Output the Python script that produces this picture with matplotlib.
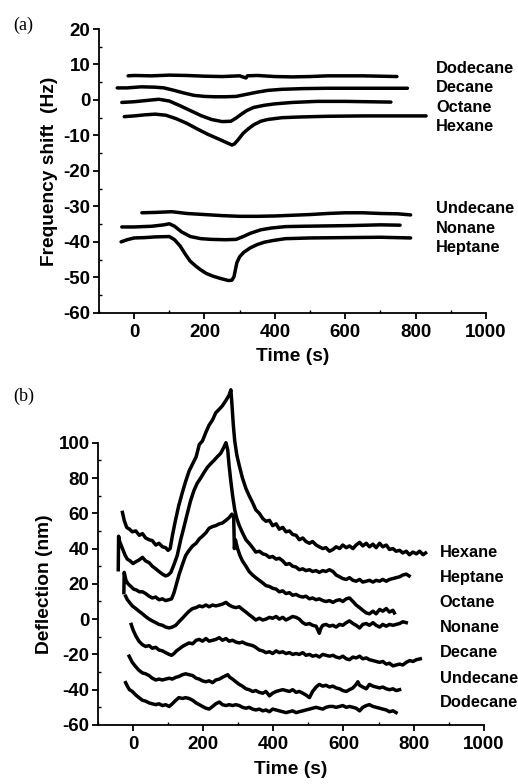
import matplotlib
matplotlib.use('Agg')
import matplotlib.pyplot as plt
from matplotlib.ticker import MultipleLocator

# ---------------- Panel (a): frequency shift (Hz) ----------------
dodecane_a_t = [-17, 0, 50, 100, 150, 200, 250, 300, 318, 322, 350, 400, 450, 500, 550, 600, 650, 700, 747]
dodecane_a_v = [6.8, 6.9, 6.8, 7.0, 6.9, 6.7, 6.6, 6.8, 6.2, 6.8, 6.9, 6.6, 6.5, 6.6, 6.8, 6.8, 6.8, 6.7, 6.6]

decane_a_t = [-48, -20, 20, 60, 85, 110, 140, 170, 200, 230, 260, 290, 320, 350, 380, 420, 480, 550, 650, 777]
decane_a_v = [3.4, 3.4, 3.7, 3.6, 3.4, 2.8, 2.0, 1.3, 1.0, 0.9, 0.9, 1.0, 1.6, 2.2, 2.7, 3.0, 3.2, 3.3, 3.3, 3.3]

octane_a_t = [-35, 0, 40, 70, 100, 130, 160, 190, 220, 250, 275, 290, 305, 320, 340, 370, 400, 450, 520, 600, 730]
octane_a_v = [-0.7, -0.5, -0.1, 0.2, -0.3, -1.6, -3.0, -4.4, -5.5, -6.1, -6.0, -5.1, -4.0, -3.0, -2.1, -1.5, -1.1, -0.7, -0.4, -0.4, -0.6]

hexane_a_t = [-28, 0, 30, 60, 90, 120, 150, 180, 210, 240, 260, 278, 285, 295, 310, 325, 340, 360, 380, 420, 470, 550, 650, 750, 830]
hexane_a_v = [-4.7, -4.5, -4.2, -4.0, -4.3, -5.3, -6.6, -8.2, -9.7, -11.0, -11.9, -12.7, -12.4, -11.3, -9.4, -8.1, -7.0, -6.0, -5.5, -5.0, -4.8, -4.6, -4.5, -4.5, -4.5]

undecane_a_t = [22, 60, 107, 150, 200, 250, 300, 350, 400, 450, 500, 550, 600, 650, 700, 750, 786]
undecane_a_v = [-31.8, -31.7, -31.5, -32.0, -32.3, -32.6, -32.8, -32.8, -32.7, -32.5, -32.3, -32.0, -31.8, -31.8, -32.0, -32.1, -32.4]

nonane_a_t = [-35, 0, 50, 85, 100, 115, 135, 160, 190, 220, 260, 290, 310, 330, 360, 390, 430, 480, 550, 620, 700, 756]
nonane_a_v = [-35.8, -35.8, -35.6, -35.2, -34.9, -35.6, -37.2, -38.5, -39.1, -39.3, -39.4, -39.3, -38.5, -37.6, -36.6, -36.1, -35.7, -35.6, -35.5, -35.4, -35.2, -35.3]

heptane_a_t = [-37, -20, 0, 30, 60, 100, 115, 131, 145, 159, 175, 188, 205, 225, 245, 268, 278, 284, 292, 300, 311, 330, 349, 370, 396, 430, 500, 600, 700, 786]
heptane_a_v = [-40.0, -39.4, -38.9, -38.8, -38.6, -38.5, -39.4, -41.2, -43.4, -45.4, -46.8, -47.8, -48.9, -49.7, -50.3, -50.9, -50.8, -49.8, -45.9, -44.2, -43.0, -41.7, -40.8, -40.1, -39.6, -39.1, -38.9, -38.8, -38.7, -38.9]

names_a = ['Dodecane', 'Decane', 'Octane', 'Hexane', 'Undecane', 'Nonane', 'Heptane']
label_y_a = [9.0, 3.6, -2.0, -7.6, -30.7, -36.3, -41.7]

# ---------------- Panel (b): deflection (nm) ----------------
hexane_b_t = [-30, -25, -18, -10, -2, 8, 18, 27, 36, 46, 55, 65, 74, 84, 93, 100, 106, 112, 120, 130, 141, 150, 160, 170, 180, 189, 198, 208, 217, 227, 236, 246, 255, 265, 274, 279, 282, 286, 290, 296, 303, 312, 322, 331, 341, 350, 360, 370, 379, 389, 398, 408, 417, 427, 436, 446, 455, 465, 474, 484, 493, 503, 512, 522, 531, 541, 550, 560, 570, 579, 589, 598, 608, 617, 627, 636, 646, 655, 665, 674, 684, 693, 703, 712, 722, 731, 741, 750, 760, 769, 779, 788, 798, 808, 817, 827, 834]
hexane_b_v = [60.5, 56, 52, 51, 49.5, 50, 47.5, 48.5, 46, 45, 44.5, 42, 43, 41, 40.5, 39, 40, 47, 55, 64, 72, 78, 84, 88, 92, 99, 101, 106, 110, 113, 117, 119, 121, 124, 127, 130, 122, 110, 101, 93, 87, 80, 74, 70, 66, 62, 60, 57, 55.5, 56, 53, 54, 51, 52, 49.5, 50, 48, 47.5, 45, 46, 44, 43, 44, 42, 41, 40, 40.5, 38.5, 39.5, 41, 40, 42, 40.5, 41.5, 40, 42, 43.5, 41.5, 43, 41, 42.5, 40.5, 43, 41, 42, 39.5, 40, 38.5, 39, 37.5, 38.5, 36.5, 38, 37, 38.5, 36.5, 37.5]

heptane_b_t = [-42, -41, -38, -30, -22, -16, -8, 0, 8, 17, 27, 36, 46, 55, 65, 74, 84, 93, 100, 108, 117, 126, 136, 145, 155, 164, 174, 183, 193, 202, 212, 221, 231, 240, 250, 258, 265, 270, 274, 279, 284, 290, 296, 303, 312, 322, 331, 341, 350, 360, 370, 379, 389, 398, 408, 417, 427, 436, 446, 455, 465, 474, 484, 493, 503, 512, 522, 531, 541, 550, 560, 570, 579, 589, 598, 608, 617, 627, 636, 646, 655, 665, 674, 684, 693, 703, 712, 722, 731, 741, 750, 760, 769, 779, 787]
heptane_b_v = [28, 47, 44, 40, 36, 34, 33, 31.5, 32.5, 33.5, 35, 33, 32, 30, 28.5, 27, 25.5, 24.5, 25, 26.5, 31, 36, 45, 52, 60, 67, 73, 77, 80, 83, 86, 88, 90, 92, 94, 97, 100, 96, 87, 78, 70, 62, 57, 53, 49, 45, 43, 40.5, 38, 38.5, 37, 36.5, 35, 35.5, 34, 34.5, 33, 31, 31.5, 30, 29.5, 28, 28.5, 27.5, 28, 27, 27.5, 26.5, 27.5, 27, 28, 27, 25, 24, 23, 22.5, 23.5, 22, 21.5, 22.5, 21, 21.5, 22, 21, 22, 21.5, 22.5, 21.5, 22.5, 23, 23.5, 24, 25, 25.5, 24.5]

octane_b_t = [-26, -25, -20, -14, -6, 2, 10, 18, 27, 36, 46, 55, 65, 74, 84, 93, 102, 110, 117, 124, 131, 141, 150, 160, 170, 180, 189, 198, 208, 217, 227, 236, 246, 255, 265, 274, 282, 287, 289, 292, 298, 305, 312, 322, 331, 341, 350, 360, 370, 379, 389, 398, 408, 417, 427, 436, 446, 455, 465, 474, 484, 493, 503, 512, 522, 531, 541, 550, 560, 570, 579, 589, 598, 608, 617, 627, 636, 646, 655, 665, 674, 684, 693, 703, 712, 722, 731, 741, 745]
octane_b_v = [15, 26.5, 22, 20, 18.5, 17, 16.5, 15.5, 15.5, 14.5, 13, 12, 12.5, 11, 11.5, 10.5, 11, 11.5, 15, 20, 25, 31, 36, 39, 41.5, 43, 45.5, 47, 49, 51.5, 52.5, 53, 54, 54.5, 56, 57.5, 59.5, 58, 40, 45, 40, 36, 33, 30, 27, 25, 23.5, 22, 20.5, 19, 18.5, 17.5, 17, 15.5, 16, 14.5, 15, 13.5, 14, 13, 12.5, 13, 11.5, 12, 11, 11.5, 10.5, 10, 10.5, 9.5, 10.5, 11, 10, 11.5, 12, 10, 8, 6.5, 5, 3.5, 3, 4.5, 3, 5.5, 4.5, 6, 4, 5, 3.5]

nonane_b_t = [-21, -16, -10, -2, 8, 17, 27, 36, 46, 55, 65, 74, 84, 93, 103, 112, 122, 131, 141, 150, 160, 170, 180, 189, 198, 208, 217, 227, 236, 246, 255, 265, 274, 284, 293, 303, 312, 322, 331, 341, 350, 360, 370, 379, 389, 398, 408, 417, 427, 436, 446, 455, 465, 474, 484, 493, 503, 512, 522, 531, 536, 541, 550, 560, 570, 579, 589, 598, 608, 617, 627, 636, 646, 655, 665, 674, 684, 693, 703, 712, 722, 731, 741, 750, 760, 769, 779]
nonane_b_v = [13, 11, 9.5, 7.5, 6, 4.5, 3, 1.5, 0, -1, -2, -3, -3.5, -4.5, -5, -4.5, -3.5, -1.5, 0.5, 2.5, 4.5, 6, 6.5, 7.5, 7, 8, 7, 8, 7.5, 8, 8.5, 9.5, 8, 7, 6.5, 7, 5.5, 4, 2.5, 1, -0.5, 0.5, -0.5, 0, 1, 0.5, 1.5, 0, 1, -0.5, 0.5, 1.5, 1, 0, -2, -3, -2.5, -3.5, -4, -8, -5, -3.5, -3, -4, -3.5, -4.5, -3, -3.5, -2, -1, -2.5, -3.5, -5, -3, -2.5, -3.5, -2, -3.5, -4.5, -3, -4, -3, -3.5, -3, -2.5, -1.5, -2]

decane_b_t = [-5, 0, 8, 17, 27, 36, 46, 55, 65, 74, 84, 93, 103, 110, 117, 124, 131, 141, 150, 160, 170, 180, 189, 198, 208, 217, 227, 236, 246, 255, 265, 274, 284, 293, 303, 312, 322, 331, 341, 350, 360, 370, 379, 389, 398, 408, 417, 427, 436, 446, 455, 465, 474, 484, 493, 503, 512, 522, 531, 541, 550, 560, 570, 579, 589, 598, 608, 617, 627, 636, 646, 655, 665, 674, 684, 693, 703, 712, 722, 731, 741, 750, 760, 769, 779, 789, 798, 808, 819]
decane_b_v = [-3, -6, -9.5, -12.5, -14.5, -15.5, -15, -16.5, -16, -17.5, -18, -19, -20, -20.5, -19.5, -18, -17, -15.5, -14.5, -13.5, -14, -12, -11.5, -12.5, -11, -12.5, -12, -11.5, -10.5, -12, -11, -12.5, -12, -13, -13.5, -13, -14, -14.5, -15, -16, -17.5, -18, -19, -18.5, -19.5, -18, -19, -18.5, -19.5, -19, -20, -19.5, -20, -19, -20.5, -20, -21, -20.5, -21.5, -20, -20.5, -21, -20.5, -21.5, -22, -21, -22.5, -23, -21.5, -22, -21, -22.5, -22, -23, -23.5, -24, -24.5, -24, -25.5, -25, -26.5, -26, -25.5, -26, -24.5, -23.5, -24, -23, -22.5]

undecane_b_t = [-11, -6, -2, 8, 17, 27, 36, 46, 55, 65, 74, 84, 93, 103, 112, 122, 131, 141, 150, 160, 170, 180, 189, 198, 208, 217, 227, 236, 246, 255, 265, 270, 276, 284, 293, 303, 312, 322, 331, 341, 350, 360, 370, 379, 389, 398, 408, 417, 427, 436, 446, 455, 465, 474, 484, 493, 503, 512, 522, 531, 541, 550, 560, 570, 579, 589, 598, 608, 617, 627, 636, 641, 646, 655, 665, 674, 684, 693, 703, 712, 722, 731, 741, 750, 760]
undecane_b_v = [-21, -23, -24.5, -27, -29, -30.5, -31, -32, -33.5, -34.5, -34, -34.5, -34, -33.5, -34, -33, -32.5, -31.5, -31, -31.5, -32, -33.5, -34, -35, -35.5, -35, -36, -34.5, -34, -33, -32, -31.5, -33, -34, -35.5, -37, -38, -39.5, -40, -41, -40.5, -41.5, -42, -41, -43.5, -42, -41, -40.5, -40, -40.5, -41, -40, -41.5, -41, -42, -43, -44.5, -41, -38.5, -37, -38, -37.5, -38.5, -38, -39, -39.5, -40.5, -41, -40, -39, -37, -35.5, -37.5, -38.5, -39.5, -37, -38, -38.5, -39, -38.5, -39.5, -40, -39.5, -40.5, -40]

dodecane_b_t = [-21, -16, -10, -2, 8, 17, 27, 36, 46, 55, 65, 74, 84, 93, 103, 112, 122, 131, 141, 150, 160, 170, 180, 189, 198, 208, 217, 227, 236, 246, 255, 265, 274, 284, 293, 303, 312, 322, 331, 341, 350, 360, 370, 379, 389, 398, 408, 417, 427, 436, 446, 455, 465, 474, 484, 493, 503, 512, 522, 531, 541, 550, 560, 570, 579, 589, 598, 608, 617, 627, 636, 646, 655, 665, 674, 684, 693, 703, 712, 722, 731, 741, 750]
dodecane_b_v = [-36, -38, -40, -41, -43, -44.5, -46, -46.5, -47.5, -48, -48.5, -48, -49, -48.5, -49.5, -48, -46, -44.5, -45, -44.5, -45, -46, -47.5, -48.5, -49.5, -50.5, -51, -49.5, -48, -47, -48.5, -49, -48.5, -49, -48.5, -49, -50, -50.5, -50, -51, -51.5, -51, -52, -51.5, -52.5, -51, -51.5, -52, -52.5, -53, -52.5, -52, -53, -52.5, -52, -51.5, -51, -50.5, -50, -50.5, -51, -50, -49.5, -49.5, -50, -49.5, -49, -50, -49.5, -50, -50.5, -52, -50, -49, -48.5, -49.5, -50, -50.5, -51, -51.5, -52.5, -52, -53]

names_b = ['Hexane', 'Heptane', 'Octane', 'Nonane', 'Decane', 'Undecane', 'Dodecane']
label_y_b = [37.8, 23.7, 9.6, -4.6, -18.7, -33.4, -47.0]

x_ticks = [0, 200, 400, 600, 800, 1000]
y_ticks_a = [-60, -50, -40, -30, -20, -10, 0, 10, 20]
y_ticks_b = [-60, -40, -20, 0, 20, 40, 60, 80, 100]

plt.rcParams['font.family'] = ['Liberation Sans', 'DejaVu Sans']
plt.rcParams['font.weight'] = 'bold'
plt.rcParams['axes.labelweight'] = 'bold'
plt.rcParams['axes.unicode_minus'] = False

fig = plt.figure(figsize=(5.18, 7.84), dpi=100)
ax_a = fig.add_axes([0.191, 0.601, 0.747, 0.362])
ax_b = fig.add_axes([0.189, 0.0753, 0.745, 0.360])

LW = 2.5
series_a = [(dodecane_a_t, dodecane_a_v), (decane_a_t, decane_a_v), (octane_a_t, octane_a_v),
            (hexane_a_t, hexane_a_v), (undecane_a_t, undecane_a_v), (nonane_a_t, nonane_a_v),
            (heptane_a_t, heptane_a_v)]
for t, v in series_a:
    ax_a.plot(t, v, color='black', lw=LW, solid_joinstyle='round', solid_capstyle='round')

series_b = [(hexane_b_t, hexane_b_v), (heptane_b_t, heptane_b_v), (octane_b_t, octane_b_v),
            (nonane_b_t, nonane_b_v), (decane_b_t, decane_b_v), (undecane_b_t, undecane_b_v),
            (dodecane_b_t, dodecane_b_v)]
for t, v in series_b:
    ax_b.plot(t, v, color='black', lw=LW, solid_joinstyle='round', clip_on=False)

for name, y in zip(names_a, label_y_a):
    ax_a.text(858, y, name, fontsize=11.8, va='center', ha='left', clip_on=False)
for name, y in zip(names_b, label_y_b):
    ax_b.text(874, y, name, fontsize=11.8, va='center', ha='left', clip_on=False)

def style(ax, yticks, yminor, ylim, ylabel, xlabelpad):
    ax.set_xlim(-100, 1000)
    ax.set_ylim(*ylim)
    ax.set_xticks(x_ticks)
    ax.set_yticks(yticks)
    ax.xaxis.set_minor_locator(MultipleLocator(100))
    ax.yaxis.set_minor_locator(MultipleLocator(yminor))
    for s in ['top', 'right']:
        ax.spines[s].set_visible(False)
    for s in ['left', 'bottom']:
        ax.spines[s].set_linewidth(1.3)
    ax.tick_params(which='major', direction='out', length=4, width=1.3, labelsize=13.5, pad=2)
    ax.tick_params(axis='x', which='major', pad=4)
    ax.tick_params(which='minor', direction='in', length=2.5, width=1.0)
    ax.set_xlabel('Time (s)', fontsize=13.8, labelpad=xlabelpad)
    ax.set_ylabel(ylabel, fontsize=13.8, labelpad=4)

style(ax_a, y_ticks_a, 5, (-60, 20), 'Frequency shift  (Hz)', 5)
style(ax_b, y_ticks_b, 10, (-60, 100), 'Deflection (nm)', 6)

fig.text(0.025, 0.968, '(a)', fontsize=13, family='Liberation Serif', fontweight='normal', va='center', ha='left')
fig.text(0.025, 0.495, '(b)', fontsize=13, family='Liberation Serif', fontweight='normal', va='center', ha='left')

fig.savefig('out.png', dpi=100)
